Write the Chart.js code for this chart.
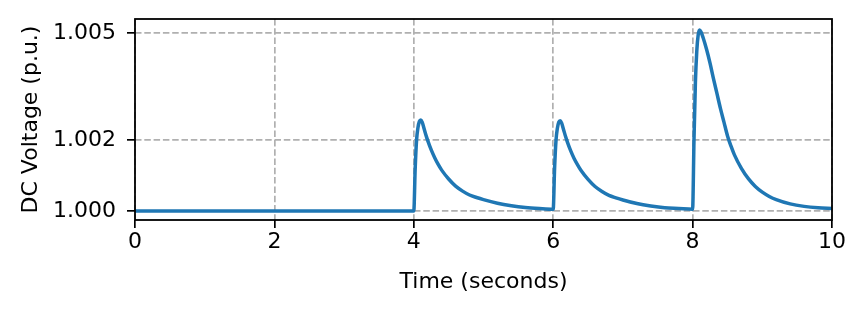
<!DOCTYPE html>
<html>
<head>
<meta charset="utf-8">
<script src="https://cdn.jsdelivr.net/npm/chart.js@4.4.1/dist/chart.umd.min.js"></script>
<style>
  html, body { margin: 0; padding: 0; background: #fff; }
  #wrap { width: 867px; height: 314px; }
</style>
</head>
<body>
<div id="wrap"><canvas id="dcChart" width="867" height="314"></canvas></div>
<script>
// time axis (seconds) and DC voltage (p.u.)
const timeSec = [
  0, 4.00, 4.02, 4.04, 4.06, 4.08, 4.10, 4.12, 4.15, 4.18, 4.20, 4.25, 4.30, 4.35, 4.40, 4.50, 4.60, 4.70, 4.80, 4.90, 5.00, 5.20, 5.40, 5.60, 5.80,
  6.00, 6.02, 6.04, 6.06, 6.08, 6.10, 6.12, 6.15, 6.18, 6.20, 6.25, 6.30, 6.35, 6.40, 6.50, 6.60, 6.70, 6.80, 6.90, 7.00, 7.20, 7.40, 7.60, 7.80,
  8.00, 8.02, 8.04, 8.06, 8.08, 8.10, 8.12, 8.15, 8.20, 8.25, 8.30, 8.35, 8.40, 8.45, 8.50, 8.55, 8.60, 8.70, 8.80, 8.90, 9.00, 9.10, 9.20, 9.40, 9.60, 9.80, 10.00
];
const dcVoltage = [
  1.00000, 1.00000, 1.00120, 1.00200, 1.00235, 1.00252, 1.00256, 1.00250, 1.00230, 1.00210, 1.00198, 1.00172, 1.00150, 1.00131, 1.00115, 1.00090, 1.00070, 1.00056, 1.00045, 1.00038, 1.00032, 1.00022, 1.00015, 1.00010, 1.00007,
  1.00005, 1.00120, 1.00198, 1.00233, 1.00250, 1.00254, 1.00248, 1.00228, 1.00208, 1.00196, 1.00170, 1.00148, 1.00130, 1.00114, 1.00089, 1.00069, 1.00055, 1.00044, 1.00037, 1.00031, 1.00021, 1.00014, 1.00009, 1.00007,
  1.00005, 1.00200, 1.00360, 1.00450, 1.00495, 1.00509, 1.00504, 1.00488, 1.00455, 1.00416, 1.00372, 1.00330, 1.00288, 1.00250, 1.00212, 1.00183, 1.00158, 1.00120, 1.00091, 1.00069, 1.00053, 1.00041, 1.00032, 1.00020, 1.00013, 1.00009, 1.00007
];
const yTicks = [1.000, 1.002, 1.005];
const xTicks = [0, 2, 4, 6, 8, 10];

const font = { family: 'DejaVu Sans', size: 22 };

// black box round the plot area (matplotlib spines)
const frame = {
  id: 'frame',
  afterDraw(chart) {
    const a = chart.chartArea, c = chart.ctx;
    c.save();
    c.strokeStyle = '#000';
    c.lineWidth = 1.8;
    c.strokeRect(a.left, a.top, a.right - a.left, a.bottom - a.top);
    c.restore();
  }
};

const ctx = document.getElementById('dcChart').getContext('2d');
new Chart(ctx, {
  type: 'line',
  data: {
    datasets: [{
      data: timeSec.map((t, i) => ({ x: t, y: dcVoltage[i] })),
      borderColor: '#1f77b4',
      borderWidth: 3.5,
      pointRadius: 0,
      cubicInterpolationMode: 'monotone',
      fill: false
    }]
  },
  options: {
    responsive: false,
    animation: false,
    devicePixelRatio: 1,
    layout: { padding: { left: 0, right: 35, top: 19, bottom: 0 } },
    plugins: { legend: { display: false }, tooltip: { enabled: false } },
    scales: {
      x: {
        type: 'linear',
        min: 0, max: 10,
        afterBuildTicks: s => { s.ticks = xTicks.map(v => ({ value: v })); },
        afterFit: s => { s.height = 94; s.paddingLeft = 0; s.paddingRight = 0; },
        ticks: { color: '#000', font: font, padding: 1, maxRotation: 0 },
        grid: { color: '#b0b0b0', lineWidth: 1.7, tickColor: '#000', tickLength: 8, tickWidth: 1.7 },
        border: { display: false, dash: [6.5, 2.8] },
        title: { display: true, text: 'Time (seconds)', color: '#000', font: font, padding: { top: 0, bottom: 19 } }
      },
      y: {
        type: 'linear',
        min: 0.999747, max: 1.005402,
        afterBuildTicks: s => { s.ticks = yTicks.map(v => ({ value: v })); },
        afterFit: s => { s.width = 135; s.paddingTop = 0; s.paddingBottom = 0; },
        ticks: { color: '#000', font: font, padding: 11, callback: v => v.toFixed(3) },
        grid: { color: '#b0b0b0', lineWidth: 1.7, tickColor: '#000', tickLength: 8, tickWidth: 1.7 },
        border: { display: false, dash: [6.5, 2.8] },
        title: { display: true, text: 'DC Voltage (p.u.)', color: '#000', font: font, padding: { top: 18, bottom: 0 } }
      }
    }
  },
  plugins: [frame]
});
</script>
</body>
</html>
